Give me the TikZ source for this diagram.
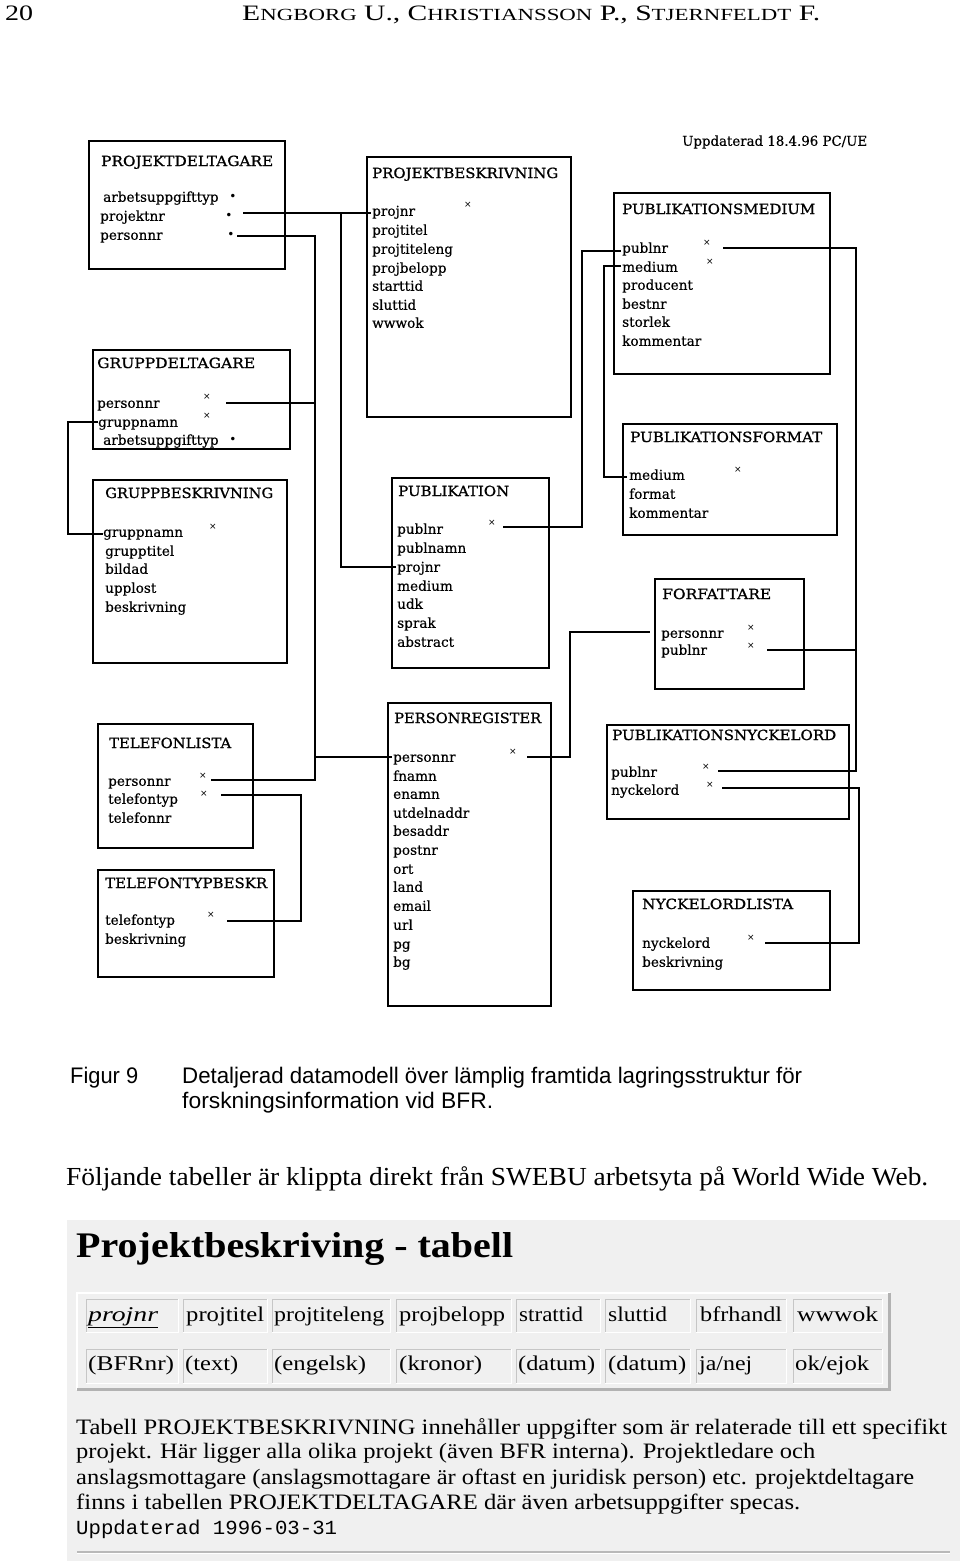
\documentclass[tikz,border=0pt]{standalone}
\usepackage{fontspec}
\usepackage{graphicx}
\setmainfont{Liberation Serif}
\newfontfamily\dia[FakeBold=0.5]{DejaVu Serif}
\newfontfamily\diat[FakeBold=0.9]{DejaVu Serif}
\newfontfamily\sym{DejaVu Sans}
\newfontfamily\capfont{Liberation Sans}
\newfontfamily\monof{Liberation Mono}
\newcommand\fitw[2]{\resizebox{#1pt}{\height}{#2}}
\newcommand\fsc[2]{#1{\fontsize{17}{20}\selectfont #2}}
\newcommand\fl[4]{\node[fld] (#1) at (#2,#3) {#4};}
\newcommand\xmk[3]{\node[xm] (#1) at (#2,#3) {×};}
\newcommand\bmk[3]{\node[bm] (#1) at (#2,#3) {•};}
\newcommand\cellbox[5]{%
  \draw[gray!45, line width=1pt] (#1,#4) |- (#3,#2);
  \draw[white, line width=1pt] (#1,#4) -| (#3,#2);}
\begin{document}
\begin{tikzpicture}[x=1pt,y=-1pt,
  tbox/.style={draw, line width=1.8pt, inner sep=0pt, anchor=north west},
  conn/.style={line width=1.7pt},
  ttl/.style={anchor=west, inner sep=0pt, text height=10pt, text depth=0pt, font=\diat\fontsize{14}{16}\selectfont},
  fld/.style={anchor=west, inner sep=0pt, text height=9.5pt, text depth=0pt, font=\dia\fontsize{13.6}{15}\selectfont},
  xm/.style={inner sep=0pt, font=\sym\fontsize{9}{9}\selectfont},
  bm/.style={inner sep=0pt, font=\sym\fontsize{12}{12}\selectfont},
  hdr/.style={anchor=west, inner sep=0pt, text height=15pt, text depth=0pt, font=\fontsize{22}{24}\selectfont},
  captxt/.style={anchor=west, inner sep=0pt, text height=16pt, text depth=0pt, font=\capfont\fontsize{22.5}{26}\selectfont},
  bodytxt/.style={anchor=west, inner sep=0pt, text height=17pt, text depth=0pt, font=\fontsize{26}{30}\selectfont},
  celltxt/.style={anchor=west, inner sep=0pt, text height=13pt, text depth=0pt, font=\fontsize{21}{24}\selectfont},
  paratxt/.style={anchor=west, inner sep=0pt, text height=14pt, text depth=0pt, font=\fontsize{22}{25}\selectfont},
]
\useasboundingbox (0,0) rectangle (960,1561);

% ---------- page header ----------
\node[hdr] (pgno) at (5,12.5) {\fitw{28}{20}};
\node[hdr] (authors) at (242,12.5) {\fitw{578}{\fsc{E}{NGBORG} U., \fsc{C}{HRISTIANSSON} P., \fsc{S}{TJERNFELDT} F.}};

% ---------- diagram note ----------
\node[fld] (upd) at (682,141) {\fitw{185}{Uppdaterad 18.4.96 PC/UE}};

% ---------- tables (boxes) ----------
\node[tbox, minimum width=196pt, minimum height=128pt] (pd) at (88,140) {};
\node[tbox, minimum width=204pt, minimum height=260pt] (pb) at (366,156) {};
\node[tbox, minimum width=216pt, minimum height=181pt] (pm) at (613,192) {};
\node[tbox, minimum width=197pt, minimum height=99pt] (gd) at (92,349) {};
\node[tbox, minimum width=214pt, minimum height=111pt] (pf) at (622,423) {};
\node[tbox, minimum width=194pt, minimum height=183pt] (gb) at (92,479) {};
\node[tbox, minimum width=157pt, minimum height=190pt] (pub) at (391,477) {};
\node[tbox, minimum width=149pt, minimum height=110pt] (for) at (654,578) {};
\node[tbox, minimum width=155pt, minimum height=124pt] (tl) at (97,723) {};
\node[tbox, minimum width=163pt, minimum height=303pt] (pr) at (387,702) {};
\node[tbox, minimum width=242pt, minimum height=94pt] (pn) at (606,724) {};
\node[tbox, minimum width=176pt, minimum height=107pt] (ttb) at (97,869) {};
\node[tbox, minimum width=197pt, minimum height=99pt] (nl) at (632,890) {};

% ---------- titles ----------
\node[ttl] (pd-t) at (101,161) {\fitw{172}{PROJEKTDELTAGARE}};
\node[ttl] (pb-t) at (372,173) {\fitw{186}{PROJEKTBESKRIVNING}};
\node[ttl] (pm-t) at (622,209) {\fitw{193}{PUBLIKATIONSMEDIUM}};
\node[ttl] (gd-t) at (97,363) {\fitw{158}{GRUPPDELTAGARE}};
\node[ttl] (pf-t) at (630,437) {\fitw{192}{PUBLIKATIONSFORMAT}};
\node[ttl] (gb-t) at (105,493) {\fitw{168}{GRUPPBESKRIVNING}};
\node[ttl] (pub-t) at (398,491) {\fitw{111}{PUBLIKATION}};
\node[ttl] (for-t) at (662,594) {\fitw{109}{FORFATTARE}};
\node[ttl] (tl-t) at (109,743) {\fitw{122}{TELEFONLISTA}};
\node[ttl] (pr-t) at (394,718) {\fitw{147}{PERSONREGISTER}};
\node[ttl] (pn-t) at (612,735) {\fitw{224}{PUBLIKATIONSNYCKELORD}};
\node[ttl] (ttb-t) at (105,883) {\fitw{162}{TELEFONTYPBESKR}};
\node[ttl] (nl-t) at (642,904) {\fitw{151}{NYCKELORDLISTA}};

% ---------- fields ----------
\fl{pd1}{103}{197}{arbetsuppgifttyp}
\fl{pd2}{100}{216}{projektnr}
\fl{pd3}{100}{235}{personnr}
\bmk{pd1m}{233}{197} \bmk{pd2m}{229}{216} \bmk{pd3m}{231}{235}

\fl{pb1}{372}{211}{projnr}
\fl{pb2}{372}{230}{projtitel}
\fl{pb3}{372}{249}{projtiteleng}
\fl{pb4}{372}{268}{projbelopp}
\fl{pb5}{372}{286}{starttid}
\fl{pb6}{372}{305}{sluttid}
\fl{pb7}{372}{323}{wwwok}
\xmk{pb1m}{468}{205}

\fl{pm1}{622}{248}{publnr}
\fl{pm2}{622}{267}{medium}
\fl{pm3}{622}{285}{producent}
\fl{pm4}{622}{304}{bestnr}
\fl{pm5}{622}{322}{storlek}
\fl{pm6}{622}{341}{kommentar}
\xmk{pm1m}{707}{243} \xmk{pm2m}{710}{262}

\fl{gd1}{97}{403}{personnr}
\fl{gd2}{98}{422}{gruppnamn}
\fl{gd3}{103}{440}{arbetsuppgifttyp}
\xmk{gd1m}{207}{397} \xmk{gd2m}{207}{416} \bmk{gd3m}{233}{440}

\fl{pf1}{629}{475}{medium}
\fl{pf2}{629}{494}{format}
\fl{pf3}{629}{513}{kommentar}
\xmk{pf1m}{738}{470}

\fl{gb1}{103}{532}{gruppnamn}
\fl{gb2}{105}{551}{grupptitel}
\fl{gb3}{105}{569}{bildad}
\fl{gb4}{105}{588}{upplost}
\fl{gb5}{105}{607}{beskrivning}
\xmk{gb1m}{213}{527}

\fl{pub1}{397}{529}{publnr}
\fl{pub2}{397}{548}{publnamn}
\fl{pub3}{397}{567}{projnr}
\fl{pub4}{397}{586}{medium}
\fl{pub5}{397}{604}{udk}
\fl{pub6}{397}{623}{sprak}
\fl{pub7}{397}{642}{abstract}
\xmk{pub1m}{492}{523}

\fl{for1}{661}{633}{personnr}
\fl{for2}{661}{650}{publnr}
\xmk{for1m}{751}{628} \xmk{for2m}{751}{646}

\fl{tl1}{108}{781}{personnr}
\fl{tl2}{108}{799}{telefontyp}
\fl{tl3}{108}{818}{telefonnr}
\xmk{tl1m}{203}{776} \xmk{tl2m}{204}{794}

\fl{pr1}{393}{757}{personnr}
\fl{pr2}{393}{776}{fnamn}
\fl{pr3}{393}{794}{enamn}
\fl{pr4}{393}{813}{utdelnaddr}
\fl{pr5}{393}{831}{besaddr}
\fl{pr6}{393}{850}{postnr}
\fl{pr7}{393}{869}{ort}
\fl{pr8}{393}{887}{land}
\fl{pr9}{393}{906}{email}
\fl{pr10}{393}{925}{url}
\fl{pr11}{393}{944}{pg}
\fl{pr12}{393}{962}{bg}
\xmk{pr1m}{513}{752}

\fl{pn1}{611}{772}{publnr}
\fl{pn2}{611}{790}{nyckelord}
\xmk{pn1m}{706}{767} \xmk{pn2m}{710}{785}

\fl{ttb1}{105}{920}{telefontyp}
\fl{ttb2}{105}{939}{beskrivning}
\xmk{ttb1m}{211}{915}

\fl{nl1}{642}{943}{nyckelord}
\fl{nl2}{642}{962}{beskrivning}
\xmk{nl1m}{751}{938}

% ---------- connectors ----------
\coordinate (a1) at (243,213); \coordinate (a2) at (371,213);
\coordinate (a3) at (341,213); \coordinate (a4) at (396,567);
\draw[conn] (a1) -- (a2);
\draw[conn] (a3) |- (a4);

\coordinate (b1) at (237,236); \coordinate (b2) at (315,757); \coordinate (b3) at (392,757);
\coordinate (b4) at (211,780); \coordinate (b5) at (226,403); \coordinate (b6) at (315,403);
\draw[conn] (b1) -| (b2) -- (b3);
\draw[conn] (b4) -| (b2);
\draw[conn] (b5) -- (b6);

\coordinate (g1) at (98,422); \coordinate (g3) at (68,422); \coordinate (g2) at (103,534);
\draw[conn] (g1) -- (g3) |- (g2);

\coordinate (t1) at (221,795); \coordinate (t3) at (301,795); \coordinate (t2) at (227,921);
\draw[conn] (t1) -- (t3) |- (t2);

\coordinate (p1) at (527,757); \coordinate (p3) at (570,757); \coordinate (p2) at (650,632);
\draw[conn] (p1) -- (p3) |- (p2);

\coordinate (m1) at (503,527); \coordinate (m2) at (582,527); \coordinate (m3) at (621,251);
\draw[conn] (m1) -- (m2) |- (m3);

\coordinate (f1) at (621,266); \coordinate (f2) at (604,266); \coordinate (f3) at (627,477);
\draw[conn] (f1) -- (f2) |- (f3);

\coordinate (n1) at (723,248); \coordinate (n2) at (856,248); \coordinate (n3) at (718,771);
\coordinate (n4) at (767,650); \coordinate (n5) at (856,650);
\draw[conn] (n1) -- (n2) |- (n3);
\draw[conn] (n4) -- (n5);

\coordinate (k1) at (722,788); \coordinate (k2) at (859,788); \coordinate (k3) at (765,943);
\draw[conn] (k1) -- (k2) |- (k3);

% ---------- caption ----------
\node[captxt] (figno) at (70,1075) {\fitw{68}{Figur 9}};
\node[captxt] (capl1) at (182,1075) {\fitw{620}{Detaljerad datamodell över lämplig framtida lagringsstruktur för}};
\node[captxt] (capl2) at (182,1100) {\fitw{311}{forskningsinformation vid BFR.}};

\node[bodytxt] (intro) at (66,1177) {\fitw{862}{Följande tabeller är klippta direkt från SWEBU arbetsyta på World Wide Web.}};

% ---------- web screenshot ----------
\fill[white!94!black] (67,1220) rectangle (960,1561);
\node[anchor=west, inner sep=0pt, text height=24pt, text depth=0pt, font=\bfseries\fontsize{36}{40}\selectfont] (webtitle) at (76,1245) {\fitw{437}{Projektbeskriving - tabell}};

\draw[white, line width=2pt] (77,1390) |- (890,1293);
\draw[gray!60, line width=3pt] (77,1389) -| (889,1293);

\cellbox{86}{1299}{178}{1332}{}
\cellbox{183}{1299}{267}{1332}{}
\cellbox{272}{1299}{390}{1332}{}
\cellbox{396}{1299}{511}{1332}{}
\cellbox{516}{1299}{600}{1332}{}
\cellbox{605}{1299}{690}{1332}{}
\cellbox{696}{1299}{786}{1332}{}
\cellbox{793}{1299}{882}{1332}{}
\cellbox{86}{1349}{178}{1383}{}
\cellbox{183}{1349}{267}{1383}{}
\cellbox{272}{1349}{390}{1383}{}
\cellbox{396}{1349}{511}{1383}{}
\cellbox{516}{1349}{600}{1383}{}
\cellbox{605}{1349}{690}{1383}{}
\cellbox{696}{1349}{786}{1383}{}
\cellbox{793}{1349}{882}{1383}{}

\node[celltxt] (h1) at (88,1315) {\fitw{70}{\underline{\textit{projnr}}}};
\node[celltxt] (h2) at (186,1315) {\fitw{78}{projtitel}};
\node[celltxt] (h3) at (274,1315) {\fitw{110}{projtiteleng}};
\node[celltxt] (h4) at (399,1315) {\fitw{106}{projbelopp}};
\node[celltxt] (h5) at (519,1315) {\fitw{64}{strattid}};
\node[celltxt] (h6) at (608,1315) {\fitw{59}{sluttid}};
\node[celltxt] (h7) at (700,1315) {\fitw{82}{bfrhandl}};
\node[celltxt] (h8) at (797,1315) {\fitw{81}{wwwok}};
\node[celltxt] (d1) at (88,1364) {\fitw{86}{(BFRnr)}};
\node[celltxt] (d2) at (185,1364) {\fitw{53}{(text)}};
\node[celltxt] (d3) at (274,1364) {\fitw{92}{(engelsk)}};
\node[celltxt] (d4) at (399,1364) {\fitw{83}{(kronor)}};
\node[celltxt] (d5) at (518,1364) {\fitw{77}{(datum)}};
\node[celltxt] (d6) at (608,1364) {\fitw{78}{(datum)}};
\node[celltxt] (d7) at (699,1364) {\fitw{53}{ja/nej}};
\node[celltxt] (d8) at (795,1364) {\fitw{74}{ok/ejok}};

\node[paratxt] (pl1) at (76,1427) {\fitw{871}{Tabell PROJEKTBESKRIVNING innehåller uppgifter som är relaterade till ett specifikt}};
\node[paratxt] (pl2) at (76,1451) {\fitw{739}{projekt. Här ligger alla olika projekt (även BFR interna). Projektledare och}};
\node[paratxt] (pl3) at (76,1477) {\fitw{838}{anslagsmottagare (anslagsmottagare är oftast en juridisk person) etc. projektdeltagare}};
\node[paratxt] (pl4) at (76,1502) {\fitw{724}{finns i tabellen PROJEKTDELTAGARE där även arbetsuppgifter specas.}};
\node[paratxt, font=\monof\fontsize{20}{24}\selectfont] (pl5) at (76,1527) {\fitw{261}{Uppdaterad 1996-03-31}};

\draw[gray!55, line width=2pt] (77,1552) -- (950,1552);
\draw[white, line width=1pt] (77,1553.5) -- (950,1553.5);
\end{tikzpicture}
\end{document}
